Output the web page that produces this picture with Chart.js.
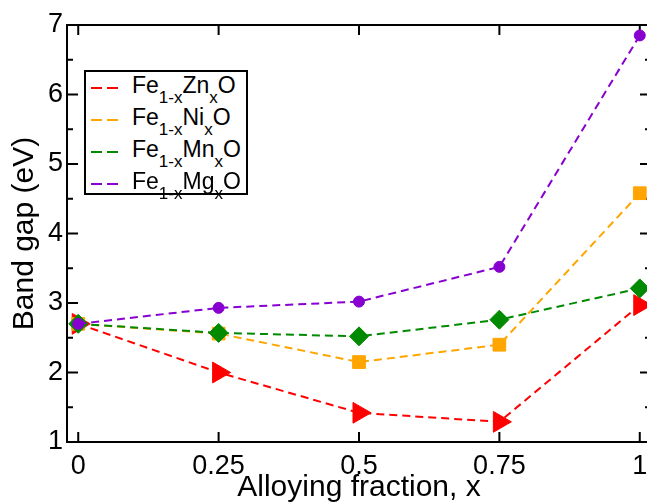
<!DOCTYPE html>
<html>
<head>
<meta charset="utf-8">
<script src="https://cdn.jsdelivr.net/npm/chart.js@4.4.0/dist/chart.umd.min.js"></script>
<style>
  html, body { margin: 0; padding: 0; background: #fff; overflow: hidden; }
  #wrap { position: relative; width: 647px; height: 503px; overflow: hidden; }
  #legend {
    position: absolute; left: 84px; top: 70px; width: 164px; height: 125px;
    border: 2px solid #000; box-sizing: border-box; background: #fff;
    font-family: 'Liberation Sans', Arial, sans-serif; font-size: 23px; color: #000;
  }
  .row { position: absolute; left: 0; width: 160px; height: 26px; line-height: 26px; white-space: nowrap; }
  .row svg { position: absolute; left: 5px; top: 0; }
  .row .txt { position: absolute; left: 46px; top: 0; }
  .sub { position: relative; top: 10px; font-size: 17px; }
</style>
</head>
<body>
<div id="wrap">
  <canvas id="myChart" width="700" height="503"></canvas>
  <div id="legend"></div>
</div>
<script>
// x positions (alloying fraction) and band gaps
const alloyX = [0, 0.25, 0.5, 0.75, 1];
const gapZn = [2.70, 2.00, 1.42, 1.29, 2.97];
const gapNi = [2.70, 2.56, 2.15, 2.40, 4.58];
const gapMn = [2.70, 2.57, 2.52, 2.76, 3.21];
const gapMg = [2.70, 2.93, 3.02, 3.52, 6.85];
const dopants = ['Zn', 'Ni', 'Mn', 'Mg'];

// axis ticks
const xTicks = [0, 0.25, 0.5, 0.75, 1];
const xTickLabels = ['0', '0.25', '0.5', '0.75', '1'];
const yTicks = [1, 2, 3, 4, 5, 6, 7];
const yTickLabels = ['1', '2', '3', '4', '5', '6', '7'];
const yMinorTicks = [1.5, 2.5, 3.5, 4.5, 5.5, 6.5];

const colors = ['#ff0000', '#ffa500', '#008a00', '#8800d0'];
const FONT = "'Liberation Sans', Arial, sans-serif";

function series(vals, color, style, radius, rotation, order) {
  return {
    data: alloyX.map((x, i) => ({ x: x, y: vals[i] })),
    borderColor: color,
    backgroundColor: color,
    borderWidth: 2,
    borderDash: [8, 5],
    pointStyle: style,
    pointRadius: radius,
    pointHoverRadius: radius,
    pointRotation: rotation,
    pointBorderWidth: 1,
    pointBorderColor: color,
    pointBackgroundColor: color,
    tension: 0,
    fill: false,
    clip: false,
    order: order
  };
}

// frame with inward ticks on all four sides
const framePlugin = {
  id: 'frame',
  beforeDatasetsDraw(chart) {
    const { ctx, chartArea: a, scales: { x, y } } = chart;
    ctx.save();
    ctx.strokeStyle = '#000';
    ctx.lineWidth = 2;
    ctx.strokeRect(a.left, a.top, a.right - a.left, a.bottom - a.top);
    ctx.beginPath();
    xTicks.forEach(v => {
      const px = x.getPixelForValue(v);
      ctx.moveTo(px, a.bottom); ctx.lineTo(px, a.bottom - 10);
      ctx.moveTo(px, a.top); ctx.lineTo(px, a.top + 10);
    });
    yTicks.forEach(v => {
      const py = y.getPixelForValue(v);
      ctx.moveTo(a.left, py); ctx.lineTo(a.left + 11, py);
      ctx.moveTo(a.right, py); ctx.lineTo(a.right - 11, py);
    });
    yMinorTicks.forEach(v => {
      const py = y.getPixelForValue(v);
      ctx.moveTo(a.left, py); ctx.lineTo(a.left + 6, py);
      ctx.moveTo(a.right, py); ctx.lineTo(a.right - 6, py);
    });
    ctx.stroke();
    ctx.restore();
  }
};

const ctx = document.getElementById('myChart').getContext('2d');
const chart = new Chart(ctx, {
  type: 'line',
  data: {
    datasets: [
      series(gapZn, colors[0], 'triangle', 12, 90, 4),
      series(gapNi, colors[1], 'rect', 9, 0, 3),
      series(gapMn, colors[2], 'rectRot', 9.5, 0, 2),
      series(gapMg, colors[3], 'circle', 5.5, 0, 1)
    ]
  },
  plugins: [framePlugin],
  options: {
    responsive: false,
    animation: false,
    devicePixelRatio: 1,
    layout: { padding: { top: 25, right: 49, left: 0, bottom: 0 } },
    plugins: { legend: { display: false }, tooltip: { enabled: false } },
    scales: {
      x: {
        type: 'linear',
        min: -0.02,
        max: 1.02,
        afterBuildTicks: s => { s.ticks = xTicks.map(v => ({ value: v })); },
        afterFit: s => { s.height = 61; },
        grid: { display: false, drawTicks: false },
        border: { display: false },
        ticks: {
          autoSkip: false, maxRotation: 0, padding: 8, color: '#000',
          font: { family: FONT, size: 27 },
          callback: (v, i) => xTickLabels[i]
        },
        title: {
          display: true, text: 'Alloying fraction, x', color: '#000',
          font: { family: FONT, size: 30, lineHeight: 1 },
          padding: { top: 0, bottom: 0 }
        }
      },
      y: {
        min: 1,
        max: 7,
        afterBuildTicks: s => { s.ticks = yTicks.map(v => ({ value: v })); },
        afterFit: s => { s.width = 67; },
        grid: { display: false, drawTicks: false },
        border: { display: false },
        ticks: {
          padding: 4, color: '#000',
          font: { family: FONT, size: 27 },
          callback: (v, i) => yTickLabels[i]
        },
        title: {
          display: true, text: 'Band gap (eV)', color: '#000',
          font: { family: FONT, size: 30, lineHeight: 1 },
          padding: { top: 10, bottom: 0 }
        }
      }
    }
  }
});

// legend with subscripts
const legend = document.getElementById('legend');
const rowTops = [0, 32, 64, 96];
dopants.forEach((d, i) => {
  const row = document.createElement('div');
  row.className = 'row';
  row.style.top = rowTops[i] + 'px';
  row.innerHTML =
    '<svg width="28" height="26"><line x1="0" y1="16" x2="28" y2="16" stroke="' + colors[i] +
    '" stroke-width="2" stroke-dasharray="11 5"/></svg>' +
    '<span class="txt">Fe<span class="sub">1-x</span>' + d + '<span class="sub">x</span>O</span>';
  legend.appendChild(row);
});
</script>
</body>
</html>
